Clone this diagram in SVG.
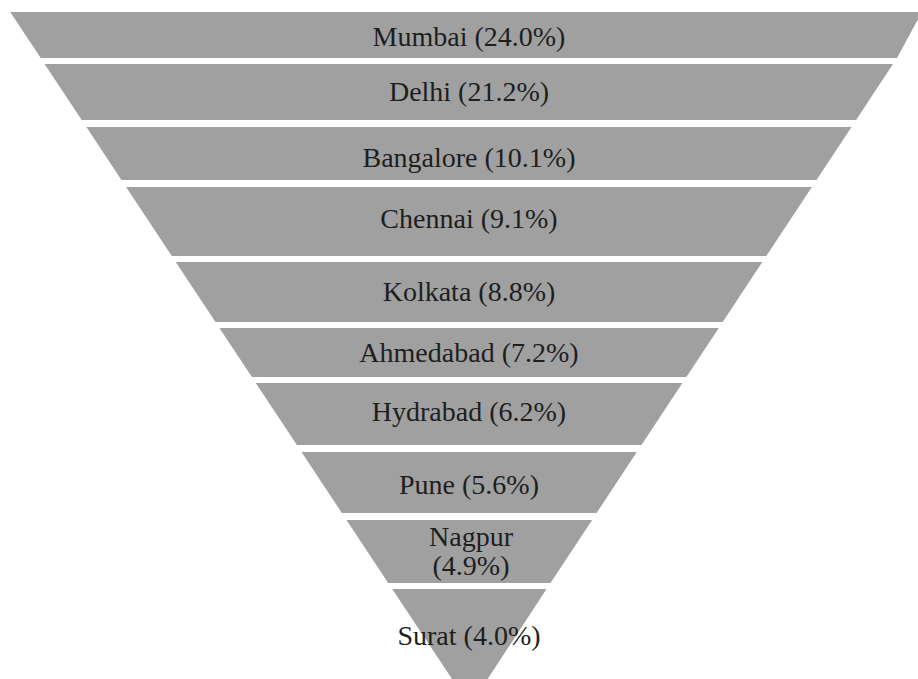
<svg xmlns="http://www.w3.org/2000/svg" width="918" height="679" viewBox="0 0 918 679">
<style>
.band{fill:#a0a0a0;}
.lbl{font-family:"Liberation Serif","Times New Roman",serif;font-size:28px;fill:#1e1e1e;text-anchor:middle;}
</style>
<rect width="918" height="679" fill="#ffffff"/>
<g id="mumbai"><polygon class="band" points="10.2,12 922,12 897,58 40.7,58"/><text class="lbl" x="469" y="46">Mumbai (24.0%)</text></g>
<g id="delhi"><polygon class="band" points="44.6,64 893,64 856.1,120 81.7,120"/><text class="lbl" x="469" y="101">Delhi (21.2%)</text></g>
<g id="bangalore"><polygon class="band" points="86.4,127 851.5,127 816.5,180 121.4,180"/><text class="lbl" x="469" y="167">Bangalore (10.1%)</text></g>
<g id="chennai"><polygon class="band" points="126.1,187 811.9,187 766.3,256 171.8,256"/><text class="lbl" x="469" y="228">Chennai (9.1%)</text></g>
<g id="kolkata"><polygon class="band" points="175.7,262 762.3,262 722.7,322 215.5,322"/><text class="lbl" x="469" y="301">Kolkata (8.8%)</text></g>
<g id="ahmedabad"><polygon class="band" points="219.4,328 718.8,328 686.4,377 251.9,377"/><text class="lbl" x="469" y="362">Ahmedabad (7.2%)</text></g>
<g id="hydrabad"><polygon class="band" points="255.8,383 682.4,383 641.5,445 296.9,445"/><text class="lbl" x="469" y="421">Hydrabad (6.2%)</text></g>
<g id="pune"><polygon class="band" points="301.5,452 636.8,452 596.6,513 341.9,513"/><text class="lbl" x="469" y="494">Pune (5.6%)</text></g>
<g id="nagpur"><polygon class="band" points="346.5,520 592.1,520 550.5,583 388.2,583"/><text class="lbl" x="471" y="546">Nagpur</text><text class="lbl" x="471" y="575">(4.9%)</text></g>
<g id="surat"><polygon class="band" points="392.2,589 546.5,589 470,706"/><text class="lbl" x="469" y="645">Surat (4.0%)</text></g>
</svg>
